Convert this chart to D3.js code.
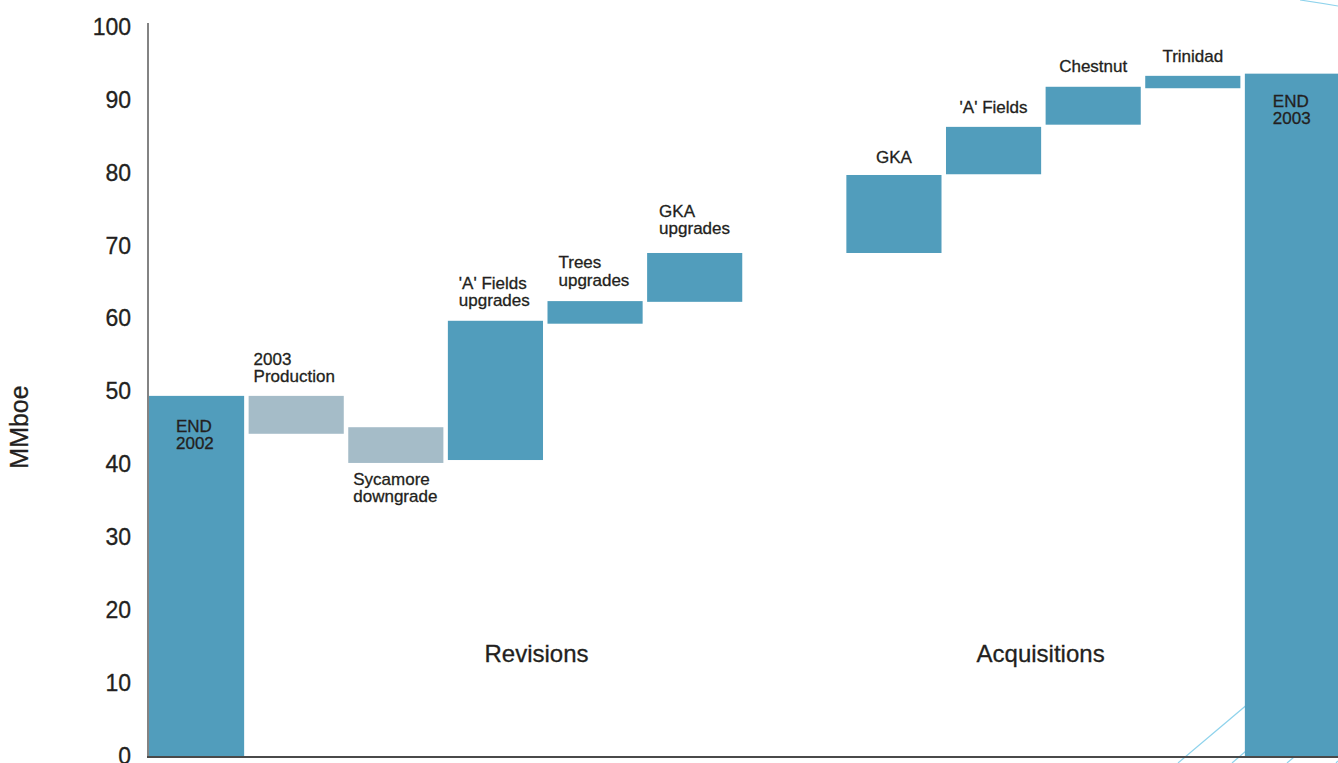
<!doctype html>
<html>
<head>
<meta charset="UTF-8">
<title>Reserves bridge</title>
<script src="https://d3js.org/d3.v7.min.js"></script>
<style>
  body { margin: 0; background: #fff; }
  svg text { font-family: "Liberation Sans", Arial, Helvetica, sans-serif; fill: #231f20; stroke: #231f20; stroke-width: 0.3px; }
</style>
</head>
<body>
<svg id="chart" width="1338" height="763"></svg>
<script>
// categories (slot 7 is an empty gap between the two groups)
var cats   = ["END 2002", "2003 Production", "Sycamore downgrade", "'A' Fields upgrades", "Trees upgrades", "GKA upgrades", "gap", "GKA", "'A' Fields", "Chestnut", "Trinidad", "END 2003"];
var starts = [0,    49.4, 45.1, 40.6, 59.3, 62.3, null, 69.0, 79.8, 86.6, 91.6, 0];
var ends   = [49.4, 44.2, 40.2, 59.7, 62.4, 69.0, null, 79.7, 86.3, 91.8, 93.3, 93.6];
var kinds  = ["total", "down", "down", "up", "up", "up", null, "up", "up", "up", "up", "total"];
var labels = [["END", "2002"], ["2003", "Production"], ["Sycamore", "downgrade"], ["'A' Fields", "upgrades"],
              ["Trees", "upgrades"], ["GKA", "upgrades"], [], ["GKA"], ["'A' Fields"], ["Chestnut"], ["Trinidad"], ["END", "2003"]];
var yTicks = [0, 10, 20, 30, 40, 50, 60, 70, 80, 90, 100];
var groups = ["Revisions", "Acquisitions"];

var w = 1338, h = 763;
var svg = d3.select("#chart");

var x = d3.scaleBand().domain(cats).range([149, 1340]).paddingInner(0.045).paddingOuter(0).align(0);
var y = d3.scaleLinear().domain([0, 100]).range([756, 27]);

var colors = { total: "#519dbc", up: "#519dbc", down: "#a5bcc8" };

// background decoration lines
var deco = svg.append("g").attr("stroke", "#8fd3ec").attr("stroke-width", 1.2).attr("fill", "none");
deco.append("path").attr("d", "M1300,0 Q1320,3 1338,6");
[[1178, 763, 1300, 660], [1232, 763, 1300, 705], [1287, 763, 1338, 720], [1336, 763, 1338, 761]].forEach(function(l){
    deco.append("line").attr("x1", l[0]).attr("y1", l[1]).attr("x2", l[2]).attr("y2", l[3]);
});

// bars
var data = cats.map(function(c, i){ return { cat: c, s: starts[i], e: ends[i], kind: kinds[i], lab: labels[i] }; })
               .filter(function(d){ return d.kind; });

svg.append("g").selectAll("rect").data(data).enter().append("rect")
    .attr("x", function(d){ return x(d.cat); })
    .attr("width", x.bandwidth())
    .attr("y", function(d){ return y(Math.max(d.s, d.e)); })
    .attr("height", function(d){ return Math.abs(y(d.s) - y(d.e)); })
    .attr("fill", function(d){ return colors[d.kind]; });

// bar labels: dx from bar left, dy from bar top (or bottom for "below"), anchor
var place = {
    "END 2002":            { dx: 27, pos: "inside", dy: 36, anchor: "start" },
    "2003 Production":     { dx: 5,  pos: "above", dy: -31, anchor: "start" },
    "Sycamore downgrade":  { dx: 5,  pos: "below", dy: 22, anchor: "start" },
    "'A' Fields upgrades": { dx: 11, pos: "above", dy: -32, anchor: "start" },
    "Trees upgrades":      { dx: 11, pos: "above", dy: -33, anchor: "start" },
    "GKA upgrades":        { dx: 12, pos: "above", dy: -36, anchor: "start" },
    "GKA":                 { dx: "mid", pos: "above", dy: -12, anchor: "middle" },
    "'A' Fields":          { dx: "mid", pos: "above", dy: -14, anchor: "middle" },
    "Chestnut":            { dx: "mid", pos: "above", dy: -15, anchor: "middle" },
    "Trinidad":            { dx: "mid", pos: "above", dy: -14, anchor: "middle" },
    "END 2003":            { dx: 28, pos: "inside", dy: 33, anchor: "start" }
};

var lab = svg.append("g").attr("font-size", 17);
data.forEach(function(d){
    var p = place[d.cat];
    var top = y(Math.max(d.s, d.e)), bot = y(Math.min(d.s, d.e));
    var tx = p.dx === "mid" ? x(d.cat) + x.bandwidth() / 2 : x(d.cat) + p.dx;
    var ty = (p.pos === "below" ? bot : top) + p.dy;
    var t = lab.append("text").attr("x", tx).attr("y", ty).attr("text-anchor", p.anchor);
    d.lab.forEach(function(line, k){
        t.append("tspan").attr("x", tx).attr("dy", k === 0 ? 0 : 17.5).text(line);
    });
});

// group labels
svg.append("g").selectAll("text").data(groups).enter().append("text")
    .attr("x", function(d, i){ return i === 0 ? x("Trees upgrades") - 11 : x("Chestnut") - 5; })
    .attr("y", 662)
    .attr("text-anchor", "middle")
    .attr("font-size", 24)
    .text(function(d){ return d; });

// y axis
var yAxis = svg.append("g").attr("transform", "translate(148,0)")
    .call(d3.axisLeft(y).tickValues(yTicks).tickSize(0).tickPadding(17));
yAxis.select(".domain").remove();
yAxis.selectAll("text").attr("font-size", 23).attr("font-family", "Liberation Sans, Arial, sans-serif").attr("fill", "#231f20");

svg.append("line").attr("x1", 148).attr("x2", 148).attr("y1", y(100) - 4).attr("y2", y(0) + 1)
    .attr("stroke", "#5a5a5a").attr("stroke-width", 1.5);
svg.append("line").attr("x1", 147).attr("x2", w).attr("y1", y(0) + 1).attr("y2", y(0) + 1)
    .attr("stroke", "#4a4a4a").attr("stroke-width", 2);

svg.append("text")
    .attr("transform", "translate(28," + 427 + ") rotate(-90)")
    .attr("text-anchor", "middle")
    .attr("font-size", 25)
    .text("MMboe");
</script>
</body>
</html>
